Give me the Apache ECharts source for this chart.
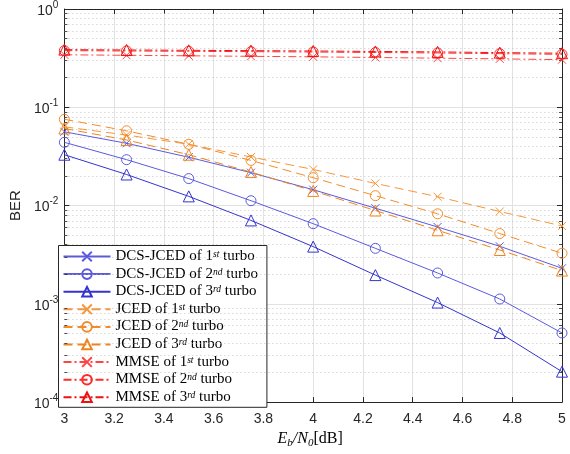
<!DOCTYPE html>
<html><head><meta charset="utf-8">
<script src="https://cdn.jsdelivr.net/npm/echarts@6/dist/echarts.min.js"></script>
<style>html,body{margin:0;padding:0;background:#fff}#c{width:570px;height:454px}</style>
</head><body><div id="c"></div>
<script>
const snr = [3, 3.25, 3.5, 3.75, 4, 4.25, 4.5, 4.75, 5];
const xTicks = [3, 3.2, 3.4, 3.6, 3.8, 4, 4.2, 4.4, 4.6, 4.8, 5];
const dcs1 = [0.0563, 0.043, 0.031, 0.0216, 0.0145, 0.0094, 0.00605, 0.00385, 0.0023];
const dcs2 = [0.044, 0.0293, 0.0188, 0.0112, 0.00654, 0.00367, 0.00206, 0.00112, 0.000505];
const dcs3 = [0.0329, 0.0207, 0.0124, 0.00706, 0.00382, 0.00196, 0.00103, 0.000505, 0.000204];
const jced1 = [0.0632, 0.0522, 0.042, 0.0312, 0.0233, 0.0168, 0.0123, 0.0087, 0.0062];
const jced2 = [0.0755, 0.0576, 0.042, 0.0288, 0.0192, 0.0126, 0.00824, 0.00519, 0.00327];
const jced3 = [0.0608, 0.0465, 0.0329, 0.0219, 0.0141, 0.0089, 0.0056, 0.00353, 0.00218];
const mmse1 = [0.342, 0.338, 0.334, 0.330, 0.326, 0.321, 0.316, 0.311, 0.305];
const mmse2 = [0.377, 0.374, 0.371, 0.368, 0.365, 0.361, 0.357, 0.351, 0.346];
const mmse3 = [0.386, 0.383, 0.380, 0.377, 0.374, 0.370, 0.366, 0.360, 0.355];
const names = ['DCS-JCED of 1st turbo','DCS-JCED of 2nd turbo','DCS-JCED of 3rd turbo',
  'JCED of 1st turbo','JCED of 2nd turbo','JCED of 3rd turbo',
  'MMSE of 1st turbo','MMSE of 2nd turbo','MMSE of 3rd turbo'];
const yMinorMarks = [];
for (let e = -4; e < 0; e++) for (let m = 2; m <= 9; m++) yMinorMarks.push(m * Math.pow(10, e));

const crossSym = 'path://M0,0L10,10M10,0L0,10';
const sets = [
  [dcs1, '#5a5ae0', 'solid', crossSym, 8],
  [dcs2, '#5a5ade', 'solid', 'circle', 10],
  [dcs3, '#3434cc', 'solid', 'triangle', 11],
  [jced1, '#f5973a', [9,5], crossSym, 8],
  [jced2, '#f28c2a', [9,5], 'circle', 10],
  [jced3, '#f0841c', [9,5], 'triangle', 11],
  [mmse1, '#ff4444', [8,3,2,3], crossSym, 8],
  [mmse2, '#ff2a2a', [8,3,2,3], 'circle', 10],
  [mmse3, '#ee1111', [8,3,2,3], 'triangle', 11]
];
const series = sets.map((s, i) => ({
  name: names[i], type: 'line', data: snr.map((x, j) => [x, s[0][j]]),
  symbol: s[3], symbolSize: s[4], showSymbol: true, z: 10 + i,
  lineStyle: {color: s[1], width: 1, type: s[2]},
  itemStyle: {color: 'transparent', borderColor: s[1], borderWidth: 1},
  emphasis: {disabled: true}, animation: false
}));
const minorGrid = yMinorMarks.map(v => [{coord: [3, v]}, {coord: [5, v]}]);
const minorTicks = [];
yMinorMarks.forEach(v => {
  minorTicks.push([{coord: [3, v]}, {coord: [3.012, v]}]);
  minorTicks.push([{coord: [4.988, v]}, {coord: [5, v]}]);
});
series.unshift({
  name: 'grid', type: 'line', data: [], z: 1, silent: true, animation: false,
  markLine: {silent: true, symbol: 'none', label: {show: false}, animation: false,
    lineStyle: {color: '#b8b8b8', width: 0.8, type: [1, 3]}, data: minorGrid}
}, {
  name: 'ticks', type: 'line', data: [], z: 30, silent: true, animation: false,
  markLine: {silent: true, symbol: 'none', label: {show: false}, animation: false,
    lineStyle: {color: '#262626', width: 0.8, type: 'solid'}, data: minorTicks}
});
function supFmt(n) { return n.replace(/(\d)(st|nd|rd)/, '$1{s|$2}').replace(/^([^{]*)\{/, '{b|$1}{').replace(/\}([^{}]*)$/, '}{b|$1}'); }
const chart = echarts.init(document.getElementById('c'));
const axisLbl = {fontFamily: 'Liberation Sans', fontSize: 14, color: '#262626'};
chart.setOption({
  animation: false,
  grid: {left: 58.7, right: 8, top: 7, bottom: 48, containLabel: false},
  legend: {
    data: names, orient: 'vertical', left: 58.5, top: 245.5,
    itemWidth: 47, itemHeight: 12, itemGap: 2.6, padding: [3, 9, 3, 4],
    backgroundColor: '#fff', borderColor: '#262626', borderWidth: 1, borderRadius: 0,
    selectedMode: false,
    formatter: supFmt,
    textStyle: {fontFamily: 'Liberation Serif', fontSize: 15, color: '#000', lineHeight: 14,
      rich: {b: {fontFamily: 'Liberation Serif', fontSize: 15, lineHeight: 14, verticalAlign: 'bottom', color: '#000'},
             s: {fontFamily: 'Liberation Serif', fontStyle: 'italic', fontSize: 9.5, lineHeight: 14, verticalAlign: 'top', color: '#000'}}}
  },
  xAxis: [{
    type: 'value', min: 3, max: 5, interval: 0.2, position: 'bottom',
    name: '{i|E}{sub|b}{i|/N}{sub|0}{r|[dB]}', nameLocation: 'middle', nameGap: 25,
    nameTextStyle: {padding: [0, 6, 0, 0], rich: {
      i: {fontFamily: 'Liberation Serif', fontStyle: 'italic', fontSize: 16, color: '#000', lineHeight: 18, verticalAlign: 'top'},
      sub: {fontFamily: 'Liberation Serif', fontStyle: 'italic', fontSize: 11, color: '#000', lineHeight: 18, verticalAlign: 'bottom'},
      r: {fontFamily: 'Liberation Serif', fontSize: 16, color: '#000', lineHeight: 18, verticalAlign: 'top'}}},
    axisLine: {lineStyle: {color: '#262626', width: 1}},
    axisTick: {inside: true, length: 5, lineStyle: {color: '#262626'}},
    axisLabel: Object.assign({margin: 10, formatter: v => String(+v.toFixed(1))}, axisLbl),
    splitLine: {show: true, lineStyle: {color: '#e2e2e2', width: 1}}
  }, {
    type: 'value', min: 3, max: 5, interval: 0.2, position: 'top',
    axisLine: {lineStyle: {color: '#262626', width: 1}},
    axisTick: {inside: true, length: 5, lineStyle: {color: '#262626'}},
    axisLabel: {show: false}, splitLine: {show: false}
  }],
  yAxis: [{
    type: 'log', logBase: 10, min: 1e-4, max: 1, position: 'left',
    name: 'BER', nameLocation: 'middle', nameGap: 35, nameRotate: 90,
    nameTextStyle: {fontFamily: 'Liberation Sans', fontSize: 15, color: '#262626'},
    axisLine: {show: true, lineStyle: {color: '#262626', width: 1}},
    axisTick: {inside: true, length: 5, lineStyle: {color: '#262626'}},
    axisLabel: Object.assign({margin: 6, formatter: v => '{b|10}{s|' + Math.round(Math.log10(v)) + '}',
      rich: {b: {fontFamily: 'Liberation Sans', fontSize: 14, color: '#262626', lineHeight: 18, verticalAlign: 'bottom'},
             s: {fontFamily: 'Liberation Sans', fontSize: 10, color: '#262626', lineHeight: 18, verticalAlign: 'top'}}}, axisLbl),
    splitLine: {show: true, lineStyle: {color: '#e2e2e2', width: 1}}
  }, {
    type: 'log', logBase: 10, min: 1e-4, max: 1, position: 'right',
    axisLine: {show: true, lineStyle: {color: '#262626', width: 1}},
    axisTick: {inside: true, length: 5, lineStyle: {color: '#262626'}},
    axisLabel: {show: false}, splitLine: {show: false}
  }],
  series: series
});
</script></body></html>
